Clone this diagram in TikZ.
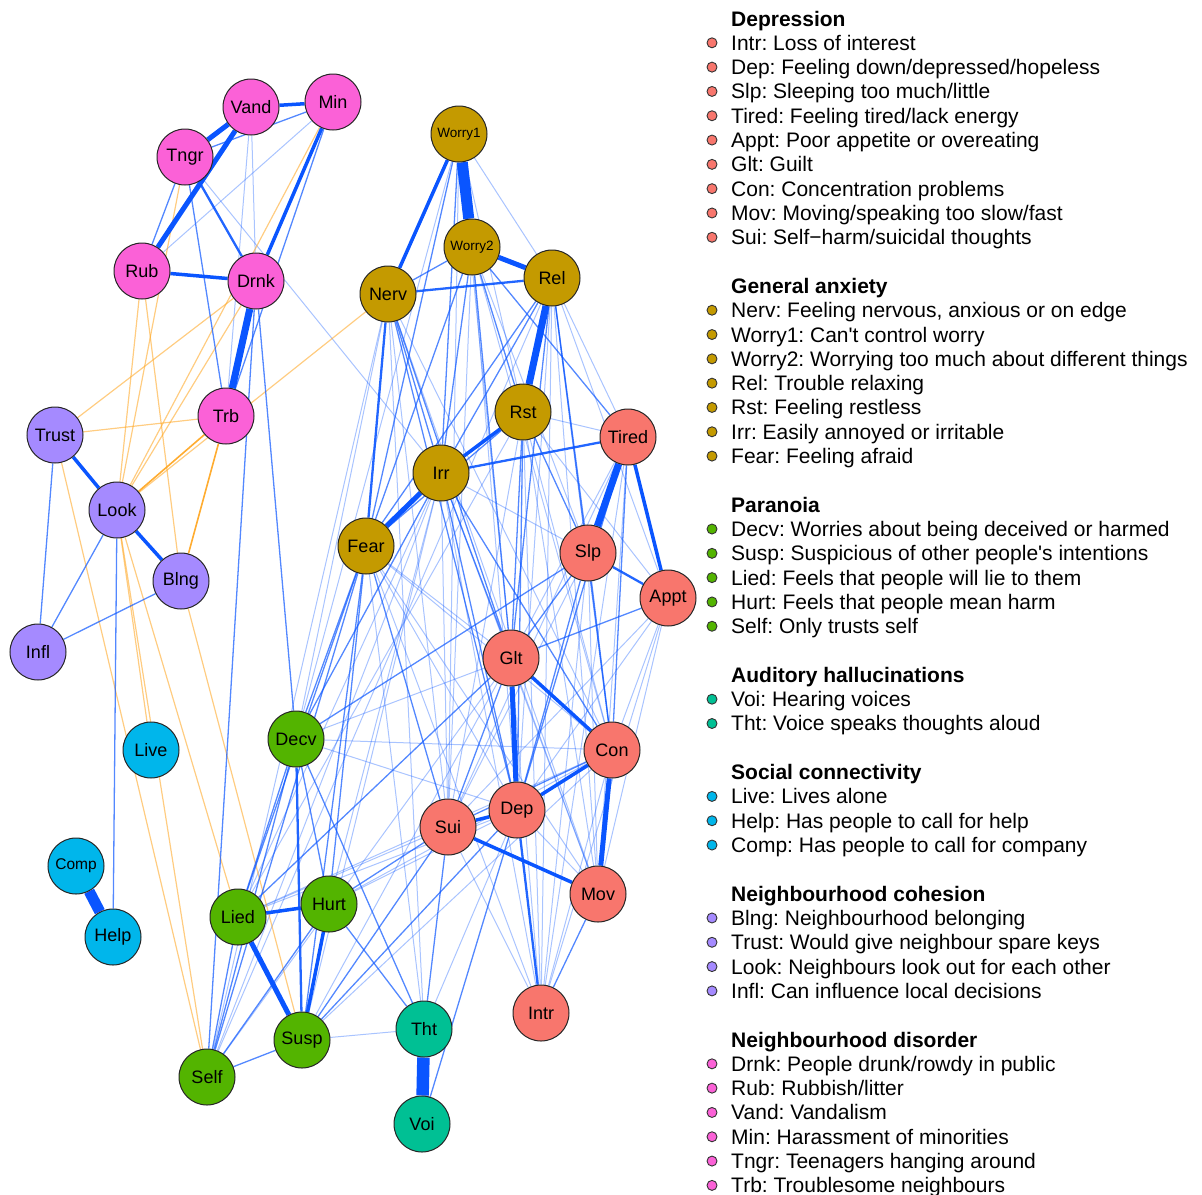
\documentclass[tikz,border=0pt]{standalone}
\usepackage{fontspec}
\setmainfont{Liberation Sans}
\usetikzlibrary{backgrounds}
\definecolor{cDep}{HTML}{F8766D}
\definecolor{cAnx}{HTML}{C49A00}
\definecolor{cPar}{HTML}{53B400}
\definecolor{cAud}{HTML}{00C094}
\definecolor{cSoc}{HTML}{00B6EB}
\definecolor{cCoh}{HTML}{A58AFF}
\definecolor{cDis}{HTML}{FB61D7}
\definecolor{eb}{HTML}{0A55FF}
\definecolor{eo}{HTML}{FFA31A}
\frenchspacing
\newcommand\lgItem[3]{\node[lgdot,fill=#2] (d#1) at (712,{18.5+24.31*#1}) {};
  \node[lgtext] (t#1) at (731,{18.5+24.31*#1+7.5}) {#3};}
\newcommand\lgHead[2]{\node[lgtext,font=\fontsize{21}{21}\selectfont\bfseries] (h#1) at (731,{18.5+24.31*#1+7.5}) {#2};}
\begin{document}
\begin{tikzpicture}[x=1pt,y=-1pt,
  vtx/.style={circle,draw=black!85,line width=1pt,minimum size=56pt,inner sep=0pt,font=\fontsize{18}{18}\selectfont},
  small/.style={font=\fontsize{13.5}{13.5}\selectfont},
  mid/.style={font=\fontsize{15.5}{15.5}\selectfont},
  e1/.style={draw=eb,line width=1pt,draw opacity=0.35},
  e2/.style={draw=eb,line width=1.3pt,draw opacity=0.7},
  e3/.style={draw=eb,line width=2.3pt,draw opacity=0.9},
  e4/.style={draw=eb,line width=3.5pt},
  e5/.style={draw=eb,line width=5pt},
  e6/.style={draw=eb,line width=7pt},
  e7/.style={draw=eb,line width=11pt},
  e8/.style={draw=eb,line width=12.5pt},
  o1/.style={draw=eo,line width=1.2pt,draw opacity=0.55},
  o2/.style={draw=eo,line width=1.6pt,draw opacity=0.9},
  lgdot/.style={circle,draw=black!80,line width=0.9pt,minimum size=10pt,inner sep=0pt},
  lgtext/.style={anchor=base west,inner sep=0pt,font=\fontsize{21}{21}\selectfont}]
\useasboundingbox (0,0) rectangle (1202,1194);
% nodes
\node[vtx,fill=cDis] (Vand) at (251,107) {Vand};
\node[vtx,fill=cDis] (Min) at (333,102) {Min};
\node[vtx,fill=cDis] (Tngr) at (185,157) {Tngr};
\node[vtx,fill=cDis] (Rub) at (142,271) {Rub};
\node[vtx,fill=cDis] (Drnk) at (256,281) {Drnk};
\node[vtx,fill=cDis] (Trb) at (226,416) {Trb};
\node[vtx,fill=cCoh] (Trust) at (55,435) {Trust};
\node[vtx,fill=cCoh] (Look) at (117,510) {Look};
\node[vtx,fill=cCoh] (Blng) at (181,581) {Blng};
\node[vtx,fill=cCoh] (Infl) at (38,652) {Infl};
\node[vtx,fill=cSoc] (Live) at (151,750) {Live};
\node[vtx,fill=cSoc,mid] (Comp) at (76,866) {Comp};
\node[vtx,fill=cSoc] (Help) at (113,937) {Help};
\node[vtx,fill=cAnx,small] (Worry1) at (459,134) {Worry1};
\node[vtx,fill=cAnx,small] (Worry2) at (472,247) {Worry2};
\node[vtx,fill=cAnx] (Nerv) at (388,294) {Nerv};
\node[vtx,fill=cAnx] (Rel) at (552,278) {Rel};
\node[vtx,fill=cAnx] (Rst) at (523,412) {Rst};
\node[vtx,fill=cAnx] (Irr) at (441,473) {Irr};
\node[vtx,fill=cAnx] (Fear) at (366,546) {Fear};
\node[vtx,fill=cDep] (Tired) at (628,437) {Tired};
\node[vtx,fill=cDep] (Slp) at (588,553) {Slp};
\node[vtx,fill=cDep] (Appt) at (668,598) {Appt};
\node[vtx,fill=cDep] (Glt) at (511,658) {Glt};
\node[vtx,fill=cDep] (Con) at (612,750) {Con};
\node[vtx,fill=cDep] (Dep) at (517,810) {Dep};
\node[vtx,fill=cDep] (Sui) at (448,827) {Sui};
\node[vtx,fill=cDep] (Mov) at (598,894) {Mov};
\node[vtx,fill=cDep] (Intr) at (541,1013) {Intr};
\node[vtx,fill=cPar] (Decv) at (296,739) {Decv};
\node[vtx,fill=cPar] (Lied) at (238,917) {Lied};
\node[vtx,fill=cPar] (Hurt) at (329,904) {Hurt};
\node[vtx,fill=cPar] (Susp) at (302,1040) {Susp};
\node[vtx,fill=cPar] (Self) at (207,1077) {Self};
\node[vtx,fill=cAud] (Tht) at (424,1029) {Tht};
\node[vtx,fill=cAud] (Voi) at (422,1124) {Voi};
% edges
\begin{scope}[on background layer]
\foreach \a/\b in {Vand/Drnk, Vand/Trb, Rub/Min, Tngr/Irr, Worry1/Rel, Worry1/Glt, Worry1/Sui, Worry1/Rst, Worry2/Slp, Worry2/Sui, Worry2/Con, Worry2/Dep, Rel/Tired, Rel/Appt, Rel/Dep, Rel/Mov, Rel/Intr, Nerv/Sui, Nerv/Con, Nerv/Decv, Nerv/Tht, Nerv/Mov, Rst/Tired, Rst/Con, Rst/Sui, Rst/Mov, Rst/Intr, Rst/Appt, Irr/Slp, Irr/Sui, Irr/Lied, Irr/Hurt, Irr/Susp, Irr/Self, Irr/Mov, Irr/Intr, Fear/Glt, Fear/Dep, Fear/Con, Fear/Mov, Fear/Tht, Fear/Intr, Tired/Glt, Tired/Mov, Tired/Intr, Tired/Sui, Slp/Mov, Slp/Intr, Slp/Sui, Appt/Con, Appt/Dep, Appt/Mov, Appt/Intr, Appt/Sui, Glt/Mov, Glt/Intr, Con/Intr, Con/Lied, Dep/Mov, Sui/Intr, Dep/Tht, Dep/Lied, Dep/Hurt, Decv/Glt, Decv/Dep, Decv/Con, Susp/Tht, Lied/Sui, Self/Glt, Self/Nerv, Susp/Con, Hurt/Con, Self/Rel, Lied/Rst, Susp/Glt, Worry1/Decv}
  \draw[e1] (\a) -- (\b);
\foreach \a/\b in {Min/Look, Drnk/Trust, Drnk/Look, Rub/Look, Rub/Blng, Tngr/Look, Trust/Trb, Look/Nerv, Trust/Self, Look/Self, Look/Live, Look/Lied, Blng/Susp}
  \draw[o1] (\a) -- (\b);
\foreach \a/\b in {Look/Trb, Blng/Trb}
  \draw[o2] (\a) -- (\b);
\foreach \a/\b in {Tngr/Min, Rub/Tngr, Min/Trb, Tngr/Trb, Drnk/Decv, Drnk/Self, Trust/Infl, Look/Infl, Blng/Infl, Look/Help, Worry1/Irr, Worry1/Fear, Worry2/Nerv, Worry2/Irr, Worry2/Fear, Worry2/Rst, Worry2/Tired, Worry2/Glt, Rel/Irr, Rel/Fear, Rel/Slp, Rel/Glt, Rel/Con, Nerv/Irr, Nerv/Glt, Nerv/Dep, Rst/Slp, Rst/Fear, Rst/Dep, Rst/Glt, Irr/Glt, Irr/Con, Irr/Dep, Irr/Decv, Fear/Decv, Fear/Lied, Fear/Hurt, Fear/Susp, Fear/Self, Fear/Sui, Tired/Con, Tired/Dep, Slp/Glt, Slp/Con, Slp/Dep, Slp/Decv, Appt/Glt, Glt/Sui, Con/Sui, Mov/Intr, Sui/Tht, Sui/Hurt, Sui/Susp, Dep/Voi, Dep/Susp, Decv/Lied, Decv/Self, Decv/Tht, Decv/Hurt, Hurt/Tht, Self/Susp, Lied/Self, Hurt/Self, Glt/Lied}
  \draw[e2] (\a) -- (\b);
\foreach \a/\b in {Tngr/Drnk, Nerv/Rel, Nerv/Fear, Irr/Tired, Slp/Appt, Dep/Intr, Decv/Susp}
  \draw[e3] (\a) -- (\b);
\foreach \a/\b in {Vand/Min, Rub/Drnk, Drnk/Min, Trust/Look, Look/Blng, Worry1/Nerv, Rst/Irr, Tired/Appt, Glt/Con, Con/Dep, Sui/Dep, Sui/Mov, Lied/Hurt, Hurt/Susp}
  \draw[e4] (\a) -- (\b);
\foreach \a/\b in {Vand/Tngr, Rub/Vand, Worry2/Rel, Irr/Fear, Glt/Dep, Con/Mov, Lied/Susp}
  \draw[e5] (\a) -- (\b);
\foreach \a/\b in {Drnk/Trb, Rel/Rst, Tired/Slp}
  \draw[e6] (\a) -- (\b);
\foreach \a/\b in {Worry1/Worry2, Comp/Help}
  \draw[e7] (\a) -- (\b);
\draw[e8] (Tht) -- (Voi);
\end{scope}
% legend
\lgHead{0}{Depression}
\lgItem{1}{cDep}{Intr: Loss of interest}
\lgItem{2}{cDep}{Dep: Feeling down/depressed/hopeless}
\lgItem{3}{cDep}{Slp: Sleeping too much/little}
\lgItem{4}{cDep}{Tired: Feeling tired/lack energy}
\lgItem{5}{cDep}{Appt: Poor appetite or overeating}
\lgItem{6}{cDep}{Glt: Guilt}
\lgItem{7}{cDep}{Con: Concentration problems}
\lgItem{8}{cDep}{Mov: Moving/speaking too slow/fast}
\lgItem{9}{cDep}{Sui: Self−harm/suicidal thoughts}
\lgHead{11}{General anxiety}
\lgItem{12}{cAnx}{Nerv: Feeling nervous, anxious or on edge}
\lgItem{13}{cAnx}{Worry1: Can\textquotesingle t control worry}
\lgItem{14}{cAnx}{Worry2: Worrying too much about different things}
\lgItem{15}{cAnx}{Rel: Trouble relaxing}
\lgItem{16}{cAnx}{Rst: Feeling restless}
\lgItem{17}{cAnx}{Irr: Easily annoyed or irritable}
\lgItem{18}{cAnx}{Fear: Feeling afraid}
\lgHead{20}{Paranoia}
\lgItem{21}{cPar}{Decv: Worries about being deceived or harmed}
\lgItem{22}{cPar}{Susp: Suspicious of other people\textquotesingle s intentions}
\lgItem{23}{cPar}{Lied: Feels that people will lie to them}
\lgItem{24}{cPar}{Hurt: Feels that people mean harm}
\lgItem{25}{cPar}{Self: Only trusts self}
\lgHead{27}{Auditory hallucinations}
\lgItem{28}{cAud}{Voi: Hearing voices}
\lgItem{29}{cAud}{Tht: Voice speaks thoughts aloud}
\lgHead{31}{Social connectivity}
\lgItem{32}{cSoc}{Live: Lives alone}
\lgItem{33}{cSoc}{Help: Has people to call for help}
\lgItem{34}{cSoc}{Comp: Has people to call for company}
\lgHead{36}{Neighbourhood cohesion}
\lgItem{37}{cCoh}{Blng: Neighbourhood belonging}
\lgItem{38}{cCoh}{Trust: Would give neighbour spare keys}
\lgItem{39}{cCoh}{Look: Neighbours look out for each other}
\lgItem{40}{cCoh}{Infl: Can influence local decisions}
\lgHead{42}{Neighbourhood disorder}
\lgItem{43}{cDis}{Drnk: People drunk/rowdy in public}
\lgItem{44}{cDis}{Rub: Rubbish/litter}
\lgItem{45}{cDis}{Vand: Vandalism}
\lgItem{46}{cDis}{Min: Harassment of minorities}
\lgItem{47}{cDis}{Tngr: Teenagers hanging around}
\lgItem{48}{cDis}{Trb: Troublesome neighbours}
\end{tikzpicture}
\end{document}
